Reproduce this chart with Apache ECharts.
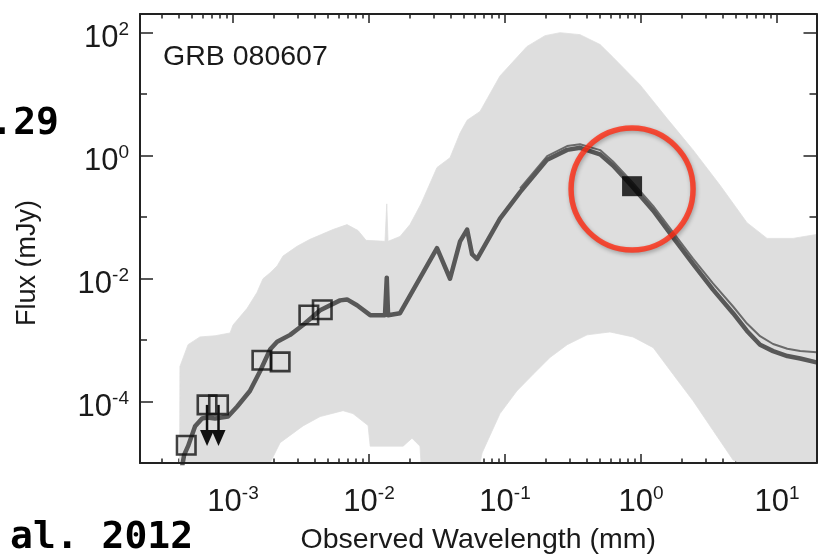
<!DOCTYPE html>
<html><head><meta charset="utf-8">
<script src="https://cdn.jsdelivr.net/npm/echarts@6/dist/echarts.min.js"></script>
<style>html,body{margin:0;padding:0;background:#fff}#chart{width:829px;height:560px}</style>
</head><body><div id="chart"></div>
<script>
// ---------------- data (wavelength in mm, flux in mJy) ----------------
const xTickValues = [1e-3, 1e-2, 1e-1, 1, 10];
const yTickValues = [1e-4, 1e-2, 1, 100];
const yMinorTickValues = [1e-3, 1e-1, 10];
const xRange = [2.07e-4, 19.5];
const yRange = [1e-5, 199];

// best-fit SED (dark curve)
const bestFitWave = [4.15e-4,4.37e-4,4.67e-4,5.26e-4,5.92e-4,6.44e-4,7.38e-4,9.19e-4,1.07e-3,1.33e-3,1.58e-3,1.87e-3,2.11e-3,2.63e-3,3.27e-3,4.37e-3,6.12e-3,6.89e-3,8.16e-3,1.02e-2,1.31e-2,1.35e-2,1.38e-2,1.69e-2,2.49e-2,3.16e-2,3.94e-2,4.67e-2,5.26e-2,5.72e-2,6.22e-2,9.18e-2,0.129,0.204,0.286,0.356,0.500,0.622,0.859,1.23,1.72,2.41,3.38,4.75,6.01,7.50,9.35,11.9,14.8,19.5];
const bestFitFlux = [7.0e-6,1.35e-5,1.88e-5,3.94e-5,5.28e-5,5.48e-5,5.28e-5,5.69e-5,8.22e-5,1.48e-4,3.10e-4,6.97e-4,9.35e-4,1.21e-3,1.75e-3,3.04e-3,4.40e-3,4.56e-3,3.66e-3,2.53e-3,2.53e-3,1.03e-2,2.53e-3,2.72e-3,1.23e-2,3.10e-2,9.89e-3,4.01e-2,6.24e-2,2.48e-2,2.07e-2,9.36e-2,0.253,0.853,1.23,1.33,1.04,0.684,0.316,0.126,0.0465,0.0172,6.59e-3,2.72e-3,1.40e-3,8.37e-4,6.59e-4,5.48e-4,5.00e-4,4.32e-4];
// upper member of the best-fit family (visible in the far-IR / radio)
const bestFitHighWave = [0.129,0.204,0.286,0.356,0.500,0.622,0.859,1.23,1.72,2.41,3.38,4.75,6.01,7.50,9.35,11.9,14.8,19.5];
const bestFitHighFlux = [0.29,0.97,1.42,1.52,1.22,0.80,0.37,0.15,0.056,0.021,8.3e-3,3.5e-3,1.85e-3,1.15e-3,8.6e-4,7.2e-4,6.6e-4,6.3e-4];

// envelope of the template library (light grey)
const envelopeTopWave = [4.05e-4,4.07e-4,4.67e-4,5.71e-4,7.38e-4,9.51e-4,1.0e-3,1.27e-3,1.50e-3,1.66e-3,1.87e-3,2.11e-3,2.33e-3,2.96e-3,3.68e-3,5.43e-3,6.89e-3,8.30e-3,9.51e-3,1.31e-2,1.35e-2,1.38e-2,1.69e-2,2.00e-2,2.41e-2,3.16e-2,3.94e-2,4.67e-2,5.26e-2,6.55e-2,9.18e-2,0.145,0.197,0.254,0.356,0.500,0.622,0.984,1.55,2.41,3.81,6.01,8.44,13.1,19.5];
const envelopeTopFlux = [1e-5,3.7e-4,8.4e-4,1.12e-3,1.17e-3,1.30e-3,1.75e-3,3.27e-3,5.91e-3,9.89e-3,1.23e-2,1.60e-2,2.31e-2,3.34e-2,4.32e-2,6.24e-2,7.50e-2,6.01e-2,4.16e-2,4.01e-2,0.163,4.01e-2,4.82e-2,7.50e-2,0.163,0.636,0.918,2.31,3.73,5.19,19.6,59.0,88.5,98.9,91.9,63.5,39.4,14.0,4.01,1.23,0.327,0.0807,0.0448,0.0448,0.0519];
const envelopeBottomWave = [4.05e-4,1.75e-3,1.87e-3,2.22e-3,3.27e-3,4.37e-3,6.44e-3,7.62e-3,9.84e-3,1.02e-2,1.78e-2,2.07e-2,2.37e-2,2.41e-2,6.55e-2,6.78e-2,9.18e-2,0.122,0.161,0.214,0.286,0.401,0.591,0.873,1.23,1.72,2.41,3.38,4.75,5.35,19.5];
const envelopeBottomFlux = [1e-5,1e-5,1.0e-5,2.14e-5,4.01e-5,5.69e-5,7.10e-5,6.35e-5,4.08e-5,1.88e-5,1.88e-5,2.53e-5,1.88e-5,1e-5,1e-5,1.46e-5,6.35e-5,1.48e-4,2.77e-4,5.19e-4,8.37e-4,1.21e-3,1.35e-3,1.12e-3,7.50e-4,2.77e-4,1.03e-4,3.40e-5,1.12e-5,1e-5,1e-5];

// photometry
const detectionWave = [4.53e-4, 1.63e-3, 2.22e-3, 3.61e-3, 4.53e-3];
const detectionFlux = [1.94e-5, 4.68e-4, 4.40e-4, 2.55e-3, 3.10e-3];
const limitWave = [6.44e-4, 7.82e-4];
const limitFlux = [8.8e-5, 8.8e-5];
const submmWave = [0.859];
const submmFlux = [0.316];
const highlightWave = [0.859];
const highlightFlux = [0.285];

// ---------------- chart ----------------
const L = Math.log10;
const pairs = (w, f) => w.map((x, i) => [L(x), L(f[i])]);
const xMin = L(xRange[0]), xMax = L(xRange[1]);
const yMin = L(yRange[0]), yMax = L(yRange[1]);

const xMinor = [];
for (let n = -4; n <= 1; n++) for (let k = 2; k <= 9; k++) {
  const v = L(k) + n; if (v > xMin && v < xMax) xMinor.push(v);
}

const FONT = '"Liberation Sans", Arial, Helvetica, sans-serif';
const INK = '#1a1a1a';
const rich = {
  b: {fontSize: 31, fontFamily: FONT, color: INK, lineHeight: 37},
  s: {fontSize: 19, fontFamily: FONT, color: INK, lineHeight: 23, verticalAlign: 'top'}
};
const fmt = v => '{b|10}{s|' + Math.round(v) + '}';

function ax(extra) {
  const base = {
    type: 'value', gridIndex: 0,
    splitLine: {show: false}, axisLine: {show: false, onZero: false},
    axisTick: {show: false}, axisLabel: {show: false}, silent: true
  };
  return Object.assign(base, extra);
}
const tickStyle = {color: '#222', width: 1.5};
function xA(pos, vals, len, extra) {
  return ax(Object.assign({min: xMin, max: xMax, position: pos,
    axisTick: {show: true, inside: true, length: len, lineStyle: tickStyle, customValues: vals}}, extra || {}));
}
function yA(pos, vals, len, extra) {
  return ax(Object.assign({min: yMin, max: yMax, position: pos,
    axisTick: {show: true, inside: true, length: len, lineStyle: tickStyle, customValues: vals}}, extra || {}));
}
const frameLine = {show: true, onZero: false, lineStyle: {color: '#222', width: 2}};

const xMajor = xTickValues.map(L);
const yMajor = yTickValues.map(L);
const yMinor = yMinorTickValues.map(L);

const topPts = pairs(envelopeTopWave, envelopeTopFlux);
const botPts = pairs(envelopeBottomWave, envelopeBottomFlux);

const chart = echarts.init(document.getElementById('chart'), null, {renderer: 'canvas'});
chart.setOption({
  animation: false,
  backgroundColor: '#fff',
  grid: {left: 140, top: 14, right: 12.5, bottom: 89.5},
  xAxis: [
    xA('bottom', xMajor, 9, {
      axisLabel: {show: true, customValues: xMajor, formatter: fmt, rich: rich, margin: 21},
      name: 'Observed Wavelength (mm)', nameLocation: 'middle', nameGap: 63,
      nameTextStyle: {fontSize: 28.5, fontFamily: FONT, color: INK}
    }),
    xA('bottom', xMinor, 4.5),
    xA('top', xMajor, 9),
    xA('top', xMinor, 4.5),
    ax({min: xMin, max: xMax, position: 'bottom', axisLine: frameLine, z: 10}),
    ax({min: xMin, max: xMax, position: 'top', axisLine: frameLine, z: 10})
  ],
  yAxis: [
    yA('left', yMajor, 13, {
      axisLabel: {show: true, customValues: yMajor, formatter: fmt, rich: rich, margin: 11, padding: [12, 0, 0, 0]}
    }),
    yA('left', yMinor, 7),
    yA('right', yMajor, 13),
    yA('right', yMinor, 7),
    ax({min: yMin, max: yMax, position: 'left', axisLine: frameLine, z: 10}),
    ax({min: yMin, max: yMax, position: 'right', axisLine: frameLine, z: 10})
  ],
  series: [
    {
      type: 'custom', name: 'templates', xAxisIndex: 0, yAxisIndex: 0, clip: true, z: 2,
      data: [topPts[0]],
      renderItem: (params, api) => {
        const pts = topPts.map(p => api.coord(p)).concat(botPts.slice().reverse().map(p => api.coord(p)));
        return {type: 'polygon', shape: {points: pts}, style: {fill: '#dedede', stroke: '#dedede', lineWidth: 0.8}};
      }
    },
    {
      type: 'line', name: 'best fit (upper)', xAxisIndex: 0, yAxisIndex: 0, z: 3,
      data: pairs(bestFitHighWave, bestFitHighFlux), symbol: 'none', clip: true,
      lineStyle: {color: '#6a6a6a', width: 2, join: 'round'}
    },
    {
      type: 'line', name: 'best fit', xAxisIndex: 0, yAxisIndex: 0, z: 3,
      data: pairs(bestFitWave, bestFitFlux), symbol: 'none', clip: true,
      lineStyle: {color: '#585858', width: 4.5, join: 'round'}
    },
    {
      type: 'custom', name: 'limits', xAxisIndex: 0, yAxisIndex: 0, z: 4,
      data: pairs(limitWave, limitFlux),
      renderItem: (params, api) => {
        const c = api.coord([api.value(0), api.value(1)]);
        return {type: 'group', children: [
          {type: 'line', shape: {x1: c[0], y1: c[1], x2: c[0], y2: c[1] + 27}, style: {stroke: '#111', lineWidth: 2.5}},
          {type: 'polygon', shape: {points: [[c[0] - 7, c[1] + 25], [c[0] + 7, c[1] + 25], [c[0], c[1] + 41]]}, style: {fill: '#111'}}
        ]};
      }
    },
    {
      type: 'scatter', name: 'detections', xAxisIndex: 0, yAxisIndex: 0, z: 5,
      data: pairs(detectionWave, detectionFlux).concat(pairs(limitWave, limitFlux)),
      symbol: 'rect', symbolSize: 18.5,
      itemStyle: {color: 'rgba(255,255,255,0)', borderColor: '#111', borderWidth: 2.6}
    },
    {
      type: 'scatter', name: 'submm', xAxisIndex: 0, yAxisIndex: 0, z: 5,
      data: pairs(submmWave, submmFlux), symbol: 'rect', symbolSize: 20,
      itemStyle: {color: '#000'}
    },
    {
      type: 'scatter', name: 'highlight', xAxisIndex: 0, yAxisIndex: 0, z: 6,
      data: pairs(highlightWave, highlightFlux), symbol: 'circle', symbolSize: 122,
      itemStyle: {color: 'rgba(255,255,255,0)', borderColor: '#ff2b12', borderWidth: 5.5,
        shadowBlur: 4, shadowColor: 'rgba(0,0,0,0.35)', shadowOffsetX: 1, shadowOffsetY: 2}
    }
  ],
  graphic: [
    {type: 'text', x: 163, y: 57, style: {text: 'GRB 080607', font: '28.5px ' + FONT, fill: INK, textVerticalAlign: 'middle'}, z: 20},
    {type: 'text', x: 28, y: 263, rotation: Math.PI / 2, style: {text: 'Flux (mJy)', font: '27px ' + FONT, fill: INK, textAlign: 'center', textVerticalAlign: 'middle'}, z: 20},
    {type: 'text', x: 59, y: 124, style: {text: '.29', font: 'bold 38px "DejaVu Sans Mono", monospace', fill: '#000', textAlign: 'right', textVerticalAlign: 'middle'}, z: 20},
    {type: 'text', x: 10, y: 538, style: {text: 'al. 2012', font: 'bold 38px "DejaVu Sans Mono", monospace', fill: '#000', textAlign: 'left', textVerticalAlign: 'middle'}, z: 20}
  ]
});
</script></body></html>
